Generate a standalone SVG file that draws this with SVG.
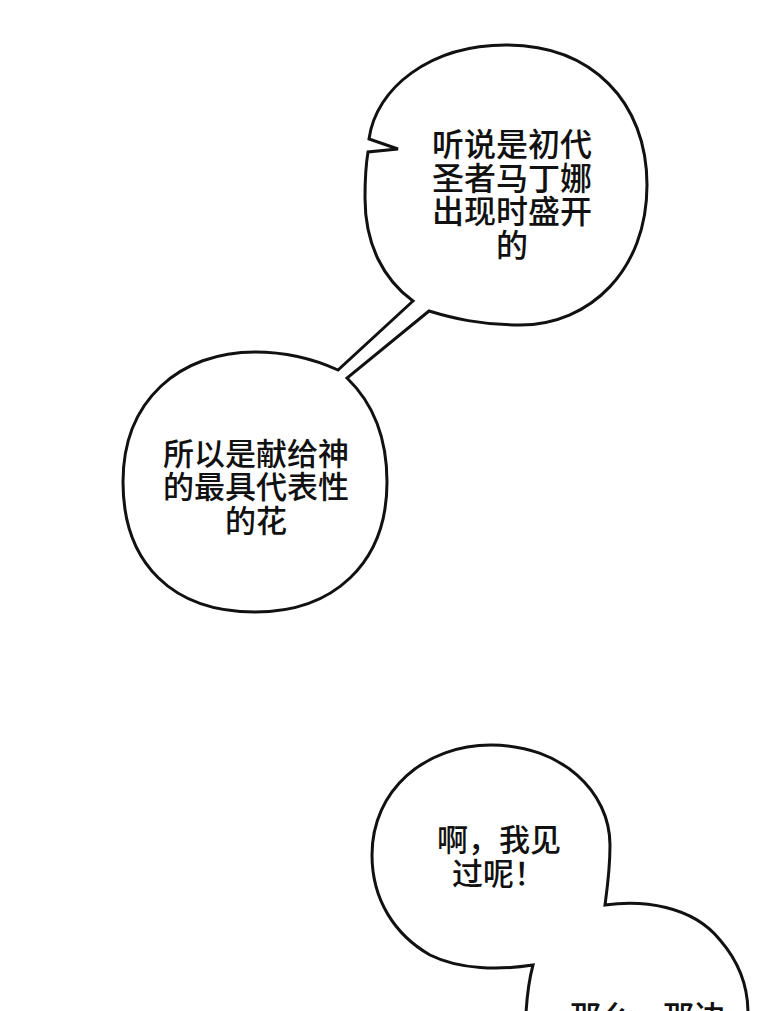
<svg xmlns="http://www.w3.org/2000/svg" width="780" height="1011" viewBox="0 0 780 1011">
  <style>
    .bubble { fill: #ffffff; stroke: #111111; stroke-width: 3; stroke-linejoin: miter; stroke-linecap: round; }
    .txt { font-family: "Noto Sans CJK SC", "Noto Sans", sans-serif; font-weight: 500; fill: #111111; }
  </style>
  <rect x="0" y="0" width="780" height="1011" fill="#ffffff"/>
  <g id="connectors">
    <!-- tail joining the top bubble and the round bubble is part of their shared outline -->
  </g>
  <g id="bubble-top-and-round">
    <path class="bubble" d="M 369,139 C 376,88 430,45 506,45 C 592,45 647,102 647,185 C 647,270 590,325 520,325 C 480,325 452,318 429,311 L 347,378 C 374,404 387,440 387,482 C 387,564 333,612 255,612 C 173,612 123,564 123,482 C 123,400 180,352 255,352 C 290,352 316,360 338,370 L 413,301 C 384,280 365,245 365,198 C 365,180 366,164 368,152 L 398,149 Z"/>
  </g>
  <g id="node-top">
    <text class="txt" font-size="32" text-anchor="middle" x="512" y="156">听说是初代</text>
    <text class="txt" font-size="32" text-anchor="middle" x="512" y="190">圣者马丁娜</text>
    <text class="txt" font-size="32" text-anchor="middle" x="512" y="223">出现时盛开</text>
    <text class="txt" font-size="32" text-anchor="middle" x="512" y="257">的</text>
  </g>
  <g id="node-round">
    <text class="txt" font-size="31" text-anchor="middle" x="256" y="465">所以是献给神</text>
    <text class="txt" font-size="31" text-anchor="middle" x="256" y="498">的最具代表性</text>
    <text class="txt" font-size="31" text-anchor="middle" x="256" y="532">的花</text>
  </g>
  <g id="node-bottom">
    <path class="bubble" d="M 526,1013 C 527,996 529,980 533,965 C 500,970 460,970 430,955 C 395,935 372,900 372,855 C 372,790 425,745 491,745 C 562,745 610,792 610,845 C 610,870 607,890 605,905 C 642,900 692,905 720,940 C 740,963 748,987 748,1013"/>
    <text class="txt" font-size="31" x="437" y="851">啊，我见</text>
    <text class="txt" font-size="31" x="452" y="885">过呢！</text>
    <text class="txt" font-size="31" x="570" y="1028">那么，那边</text>
  </g>
</svg>
